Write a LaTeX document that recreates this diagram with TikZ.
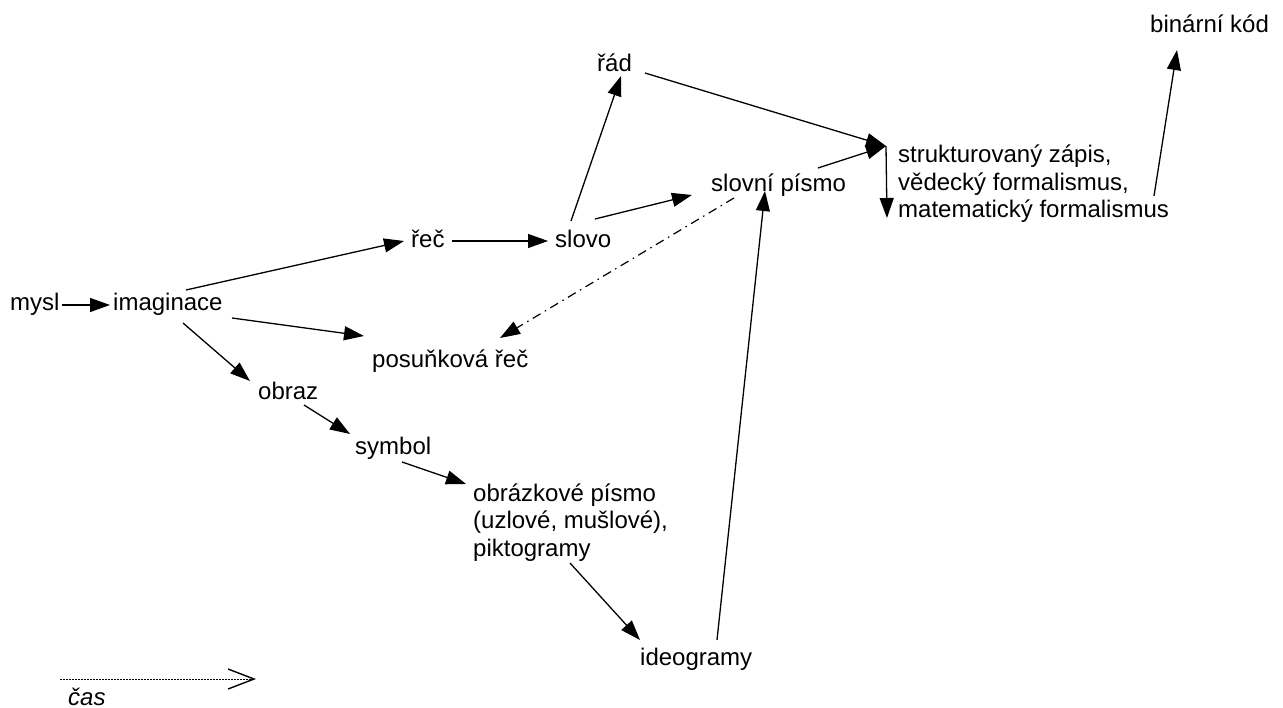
\documentclass[tikz,border=0pt]{standalone}
\usepackage{fontspec}
\setmainfont{Liberation Sans}
\usetikzlibrary{arrows.meta}
\begin{document}
\begin{tikzpicture}[x=1pt,y=-1pt,
  lbl/.style={anchor=base west,inner sep=0pt,font=\fontsize{24}{27.5}\selectfont,align=left},
  conn/.style={line width=1.3pt,-{Triangle[length=20pt,width=14pt]}},
  dashdot/.style={line width=1.2pt,dash pattern=on 9pt off 5pt on 1.5pt off 5pt,-{Triangle[length=20pt,width=14pt]}},
  timearrow/.style={line width=0.8pt,dash pattern=on 2pt off 1pt,-{Straight Barb[length=26pt,width=20pt,line width=1.4pt]}}]
\useasboundingbox (0,0) rectangle (1283,708);
% texts
\node[lbl] (mysl) at (10,311) {mysl};
\node[lbl] (imag) at (113,311) {imaginace};
\node[lbl] (rec) at (411,248) {řeč};
\node[lbl] (slovo) at (555,248) {slovo};
\node[lbl] (rad) at (597,72) {řád};
\node[lbl] (slovni) at (711,192) {slovní písmo};
\node[lbl] (posun) at (372,368) {posuňková řeč};
\node[lbl] (obraz) at (258,400) {obraz};
\node[lbl] (symbol) at (355,455) {symbol};
\node[lbl] (obrpis) at (473,556) {obrázkové písmo\\(uzlové, mušlové),\\piktogramy};
\node[lbl] (ideo) at (640,665) {ideogramy};
\node[lbl] (strukt) at (898,218) {strukturovaný zápis,\\vědecký formalismus,\\matematický formalismus};
\node[lbl] (bin) at (1150,33) {binární kód};
\node[lbl,font=\fontsize{24}{28}\selectfont\itshape] (cas) at (68,705) {čas};
% connector end points
\coordinate (mysl-o) at (62,305);
\coordinate (imag-i) at (110,305);
\coordinate (imag-o1) at (186,290);
\coordinate (rec-i) at (404,241);
\coordinate (rec-o) at (452,241);
\coordinate (slovo-i) at (548,241);
\coordinate (slovo-o1) at (571,221);
\coordinate (rad-i) at (621,76);
\coordinate (rad-o) at (645,73);
\coordinate (strukt-i) at (886,146);
\coordinate (slovo-o2) at (595,219);
\coordinate (slovni-i) at (692,195);
\coordinate (slovni-o1) at (818,168);
\coordinate (strukt-d) at (887,218);
\coordinate (slovni-o2) at (734,198);
\coordinate (posun-i1) at (500,338);
\coordinate (imag-o2) at (232,318);
\coordinate (posun-i2) at (364,336);
\coordinate (imag-o3) at (183,323);
\coordinate (obraz-i) at (250,381);
\coordinate (obraz-o) at (304,405);
\coordinate (symbol-i) at (350,434);
\coordinate (symbol-o) at (402,462);
\coordinate (obrpis-i) at (466,484);
\coordinate (obrpis-o) at (570,563);
\coordinate (ideo-i) at (640,640);
\coordinate (ideo-o) at (717,640);
\coordinate (slovni-i2) at (765,191);
\coordinate (strukt-o) at (1154,196);
\coordinate (bin-i) at (1177,50);
\coordinate (time-s) at (60,679);
\coordinate (time-e) at (256,679);
% connectors
\draw[conn] (mysl-o) -- (imag-i);
\draw[conn] (imag-o1) -- (rec-i);
\draw[conn] (rec-o) -- (slovo-i);
\draw[conn] (slovo-o1) -- (rad-i);
\draw[conn] (rad-o) -- (strukt-i);
\draw[conn] (slovo-o2) -- (slovni-i);
\draw[conn] (slovni-o1) -- (strukt-i);
\draw[conn] (strukt-i) -- (strukt-d);
\draw[dashdot] (slovni-o2) -- (posun-i1);
\draw[conn] (imag-o2) -- (posun-i2);
\draw[conn] (imag-o3) -- (obraz-i);
\draw[conn] (obraz-o) -- (symbol-i);
\draw[conn] (symbol-o) -- (obrpis-i);
\draw[conn] (obrpis-o) -- (ideo-i);
\draw[conn] (ideo-o) -- (slovni-i2);
\draw[conn] (strukt-o) -- (bin-i);
\draw[timearrow] (time-s) -- (time-e);
\end{tikzpicture}
\end{document}
